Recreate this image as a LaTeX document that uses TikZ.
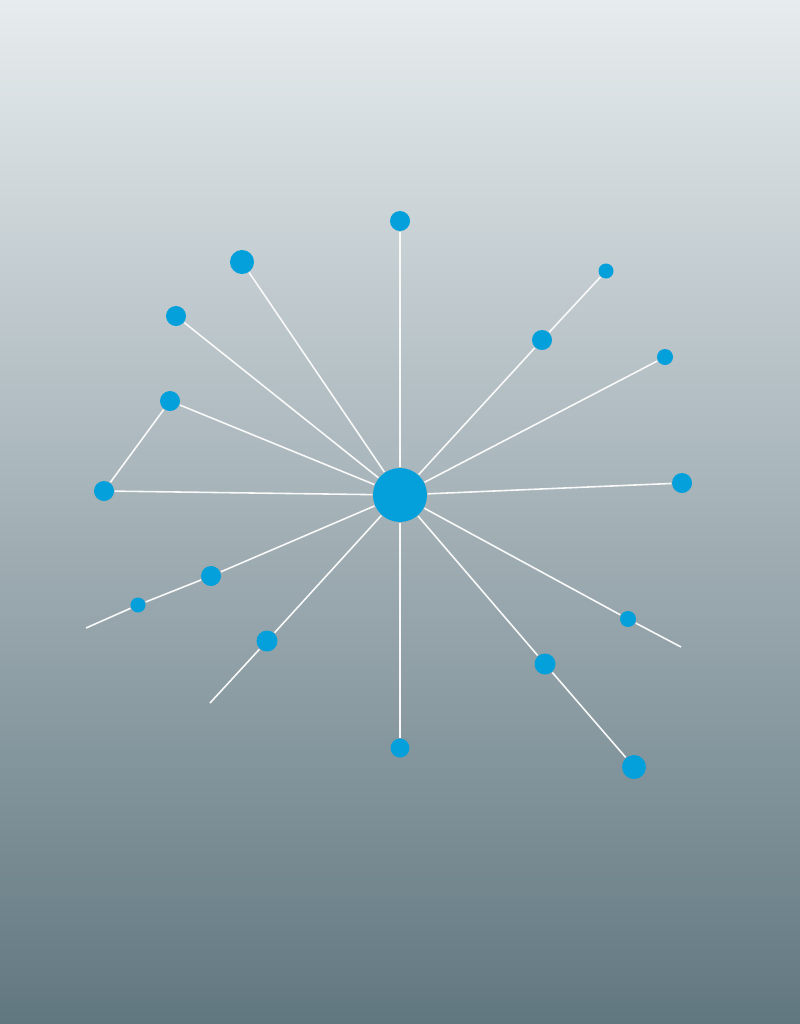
\documentclass[tikz,border=0pt]{standalone}
\definecolor{bgtop}{RGB}{231,236,238}
\definecolor{bgmid}{RGB}{172,184,189}
\definecolor{bgbot}{RGB}{97,119,128}
\definecolor{dotblue}{RGB}{4,160,220}
\tikzset{
  dot/.style={circle,fill=dotblue,inner sep=0pt,minimum size=#1},
  link/.style={draw=white!95!gray,line width=0.45pt}
}
\begin{document}
\begin{tikzpicture}[x=0.01cm,y=-0.01cm]
\useasboundingbox (0,0) rectangle (800,1024);
\shade[top color=bgtop,middle color=bgmid,bottom color=bgbot] (0,0) rectangle (800,1024);
% nodes
\node[dot=0.54cm] (C) at (400,495) {};
\node[dot=0.20cm] (pT) at (400,221) {};
\node[dot=0.24cm] (pA) at (242,262) {};
\node[dot=0.20cm] (pB) at (176,316) {};
\node[dot=0.20cm] (pD) at (170,401) {};
\node[dot=0.20cm] (pE) at (104,491) {};
\node[dot=0.20cm] (pF) at (211,576) {};
\node[dot=0.15cm] (pG) at (138,605) {};
\coordinate (eG) at (86,628);
\node[dot=0.21cm] (pH) at (267,641) {};
\coordinate (eH) at (210,703);
\node[dot=0.19cm] (pI) at (400,748) {};
\node[dot=0.21cm] (pJ) at (545,664) {};
\node[dot=0.24cm] (pK) at (634,767) {};
\node[dot=0.16cm] (pL) at (628,619) {};
\coordinate (eL) at (681,647);
\node[dot=0.20cm] (pM) at (682,483) {};
\node[dot=0.16cm] (pN) at (665,357) {};
\node[dot=0.20cm] (pO) at (542,340) {};
\node[dot=0.15cm] (pP) at (606,271) {};
% links
\draw[link] (C) -- (pT);
\draw[link] (C) -- (pA);
\draw[link] (C) -- (pB);
\draw[link] (C) -- (pD);
\draw[link] (C) -- (pE);
\draw[link] (pE) -- (pD);
\draw[link] (C) -- (pF);
\draw[link] (pF) -- (pG);
\draw[link] (pG) -- (eG);
\draw[link] (C) -- (pH);
\draw[link] (pH) -- (eH);
\draw[link] (C) -- (pI);
\draw[link] (C) -- (pJ);
\draw[link] (pJ) -- (pK);
\draw[link] (C) -- (pL);
\draw[link] (pL) -- (eL);
\draw[link] (C) -- (pM);
\draw[link] (C) -- (pN);
\draw[link] (C) -- (pO);
\draw[link] (pO) -- (pP);
\end{tikzpicture}
\end{document}
